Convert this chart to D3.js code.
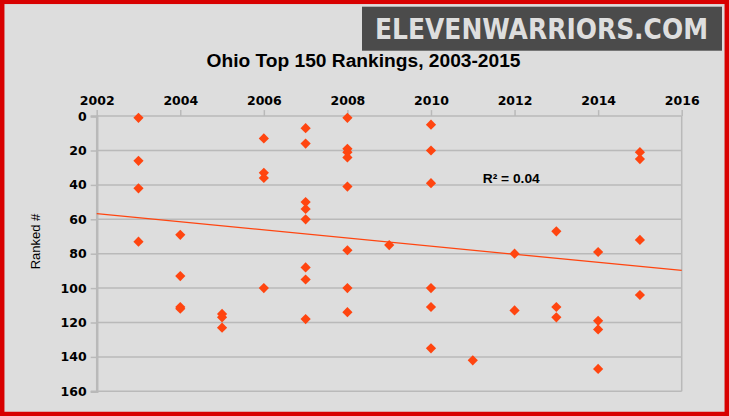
<!DOCTYPE html>
<html>
<head>
<meta charset="utf-8">
<script src="https://cdn.jsdelivr.net/npm/d3@7"></script>
<style>
html,body{margin:0;padding:0;background:#dddddd;}
svg{display:block;}
</style>
</head>
<body>
<svg id="chart" width="729" height="416"></svg>
<script>
// ---- data ----
const chartTitle = "Ohio Top 150 Rankings, 2003-2015";
const yAxisTitle = "Ranked #";
const logoText = "ELEVENWARRIORS.COM";
const rSquaredLabel = "R\u00B2 = 0.04";
const xTicks = [2002, 2004, 2006, 2008, 2010, 2012, 2014, 2016];
const yTicks = [0, 20, 40, 60, 80, 100, 120, 140, 160];
const pointYears = [
  2003, 2003, 2003, 2003,
  2004, 2004, 2004, 2004,
  2005, 2005, 2005,
  2006, 2006, 2006, 2006,
  2007, 2007, 2007, 2007, 2007, 2007, 2007, 2007,
  2008, 2008, 2008, 2008, 2008, 2008, 2008, 2008,
  2009,
  2010, 2010, 2010, 2010, 2010, 2010,
  2011,
  2012, 2012,
  2013, 2013, 2013,
  2014, 2014, 2014, 2014,
  2015, 2015, 2015, 2015
];
const pointRanks = [
  1, 26, 42, 73,
  69, 93, 111, 112,
  115, 117, 123,
  13, 33, 36, 100,
  7, 16, 50, 54, 60, 88, 95, 118,
  1, 19, 21, 24, 41, 78, 100, 114,
  75,
  5, 20, 39, 100, 111, 135,
  142,
  80, 113,
  67, 111, 117,
  79, 119, 124, 147,
  21, 25, 72, 104
];

// ---- drawing ----
const svg = d3.select("#chart");
const W = 729, H = 416;
const accent = "#ff4510";
const gridColor = "#b9b9b9";
const arialish = "'Liberation Sans', Arial, sans-serif";
const tickFont = "'DejaVu Sans', Verdana, sans-serif";

svg.append("rect").attr("x", 0).attr("y", 0).attr("width", W).attr("height", H).attr("fill", "#dddddd");

const x = d3.scaleLinear().domain([2002, 2016]).range([96.7, 681.7]);
const y = d3.scaleLinear().domain([0, 160]).range([116.1, 391.3]);

// gridlines
svg.append("g").selectAll("line").data(yTicks).join("line")
  .attr("x1", x(2002)).attr("x2", x(2016))
  .attr("y1", d => y(d)).attr("y2", d => y(d))
  .attr("stroke", gridColor).attr("stroke-width", 1.5);

// right border of plot
svg.append("line").attr("x1", x(2016)).attr("x2", x(2016))
  .attr("y1", y(0)).attr("y2", y(160))
  .attr("stroke", gridColor).attr("stroke-width", 1.5);

// top x axis
const xAxis = d3.axisTop(x).tickValues(xTicks).tickFormat(d3.format("d")).tickSize(6).tickPadding(5);
const gx = svg.append("g").attr("transform", `translate(0,${y(0)})`).call(xAxis);
gx.select(".domain").remove();
gx.selectAll("line").attr("stroke", gridColor).attr("stroke-width", 1.5);
gx.selectAll("text").attr("fill", "#000").attr("font-family", tickFont)
  .attr("font-size", 12.5).attr("font-weight", "bold");

// left y axis
const yAxis = d3.axisLeft(y).tickValues(yTicks).tickSize(6).tickPadding(4);
const gy = svg.append("g").attr("transform", `translate(${x(2002)},0)`).call(yAxis);
gy.select(".domain").attr("stroke", gridColor).attr("stroke-width", 2.5);
gy.selectAll("line").attr("stroke", gridColor).attr("stroke-width", 1.5);
gy.selectAll("text").attr("fill", "#000").attr("font-family", tickFont)
  .attr("font-size", 12.5).attr("font-weight", "bold");

// trendline (least squares)
const n = pointYears.length;
const mx = d3.mean(pointYears), my = d3.mean(pointRanks);
let sxy = 0, sxx = 0;
for (let i = 0; i < n; i++) { sxy += (pointYears[i] - mx) * (pointRanks[i] - my); sxx += (pointYears[i] - mx) ** 2; }
const slope = sxy / sxx, intercept = my - slope * mx;
svg.append("line")
  .attr("x1", x(2002)).attr("y1", y(intercept + slope * 2002))
  .attr("x2", x(2016)).attr("y2", y(intercept + slope * 2016))
  .attr("stroke", accent).attr("stroke-width", 1.3);

// points
const diamond = d3.symbol(d3.symbolSquare, 52)();
svg.append("g").selectAll("path").data(d3.range(n)).join("path")
  .attr("d", diamond)
  .attr("transform", i => `translate(${x(pointYears[i])},${y(pointRanks[i])}) rotate(45)`)
  .attr("fill", accent);

// R² label
svg.append("text").attr("x", 482.7).attr("y", 183)
  .attr("font-family", arialish).attr("font-size", 13.5).attr("font-weight", "bold")
  .attr("textLength", 57).attr("lengthAdjust", "spacingAndGlyphs")
  .attr("fill", "#000").text(rSquaredLabel);

// title
svg.append("text").attr("x", 206.5).attr("y", 66.7)
  .attr("font-family", arialish).attr("font-size", 18).attr("font-weight", "bold")
  .attr("textLength", 314).attr("lengthAdjust", "spacingAndGlyphs")
  .attr("fill", "#000").text(chartTitle);

// y axis title
svg.append("text").attr("transform", "translate(39.5,241.5) rotate(-90)").attr("text-anchor", "middle")
  .attr("font-family", arialish).attr("font-size", 13)
  .attr("fill", "#000").text(yAxisTitle);

// logo
svg.append("rect").attr("x", 362).attr("y", 6.7).attr("width", 360).attr("height", 44).attr("fill", "#4b4b4b");
svg.append("text").attr("x", 375).attr("y", 39.3)
  .attr("font-family", "'DejaVu Sans Condensed', 'DejaVu Sans', sans-serif").attr("font-size", 29).attr("font-weight", "bold")
  .attr("textLength", 333).attr("lengthAdjust", "spacingAndGlyphs")
  .attr("fill", "#dedede").text(logoText);

// red frame
svg.append("rect").attr("x", 2.2).attr("y", 1.8).attr("width", W - 4.4).attr("height", H - 3.8)
  .attr("fill", "none").attr("stroke", "#d80000").attr("stroke-width", 4.5);
</script>
</body>
</html>
